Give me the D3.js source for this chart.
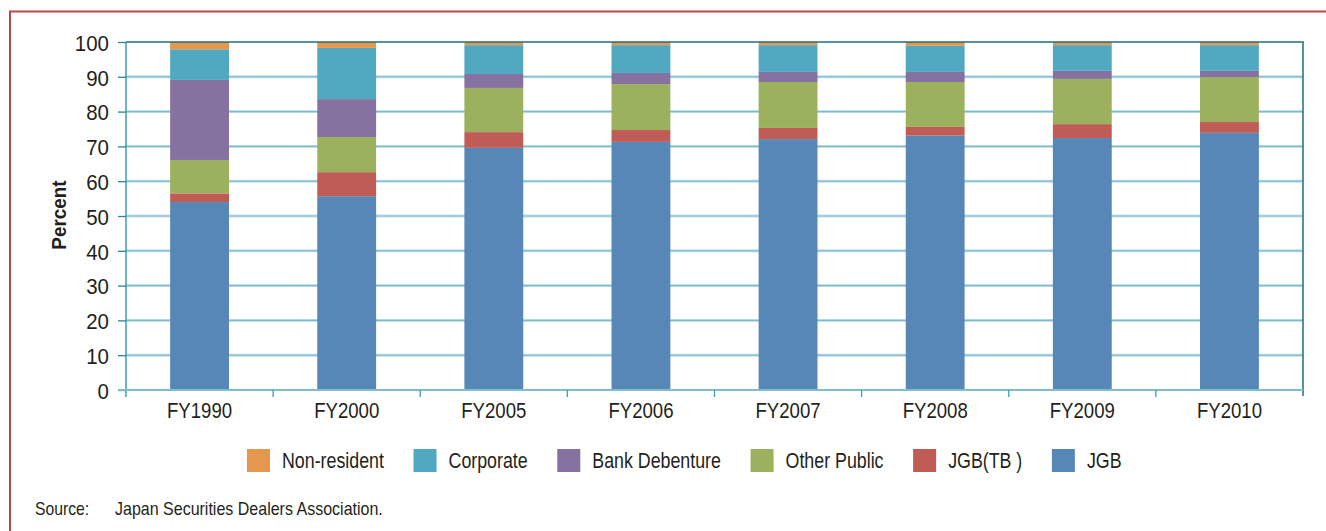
<!DOCTYPE html>
<html>
<head>
<meta charset="utf-8">
<script src="https://cdn.jsdelivr.net/npm/d3@7"></script>
<style>
  html, body { margin: 0; padding: 0; background: #ffffff; }
  svg { display: block; }
  .lbl { font-family: "Liberation Sans", Arial, sans-serif; fill: #231f20; }
</style>
</head>
<body>
<svg id="chart" width="1326" height="531"></svg>
<script>
// Holders of Japanese bonds, share of total (percent)
const categories = ["FY1990", "FY2000", "FY2005", "FY2006", "FY2007", "FY2008", "FY2009", "FY2010"];

const jgb          = [54.0, 55.7, 69.6, 71.3, 72.1, 73.1, 72.4, 73.9];
const jgbTB        = [2.5, 6.9, 4.5, 3.4, 3.2, 2.5, 4.0, 3.1];
const otherPublic  = [9.6, 10.1, 12.7, 13.2, 13.2, 12.9, 13.0, 12.9];
const bankDeb      = [23.0, 10.9, 4.0, 3.2, 2.9, 2.9, 2.3, 1.8];
const corporate    = [8.8, 14.7, 8.3, 8.0, 7.7, 7.5, 7.4, 7.4];
const nonResident  = [2.1, 1.7, 0.9, 0.9, 0.9, 1.1, 0.9, 0.9];

const yTicks = [0, 10, 20, 30, 40, 50, 60, 70, 80, 90, 100];

// Stack order bottom -> top
const seriesDefs = [
  { key: "JGB",            values: jgb,         color: "#5787b7" },
  { key: "JGB(TB )",       values: jgbTB,       color: "#be5c55" },
  { key: "Other Public",   values: otherPublic, color: "#9bb15e" },
  { key: "Bank Debenture", values: bankDeb,     color: "#8672a0" },
  { key: "Corporate",      values: corporate,   color: "#51a9c1" },
  { key: "Non-resident",   values: nonResident, color: "#e4984e" }
];
// Legend reads top of stack first
const legendOrder = ["Non-resident", "Corporate", "Bank Debenture", "Other Public", "JGB(TB )", "JGB"];

// Horizontally condense a text element around its own anchor point
function condense(sel, k, rot) {
  sel.each(function () {
    const t = d3.select(this);
    const x0 = +t.attr("x") || 0;
    const y0 = +t.attr("y") || 0;
    t.attr("x", 0).attr("y", 0)
     .attr("transform", `translate(${x0},${y0})${rot ? ` rotate(${rot})` : ""} scale(${k},1)`);
  });
}

const svg = d3.select("#chart");

// outer panel border
svg.append("rect")
  .attr("x", 10).attr("y", 11.5)
  .attr("width", 1400).attr("height", 600)
  .attr("fill", "none")
  .attr("stroke", "#b34a4a")
  .attr("stroke-width", 2);

const plot = { left: 126, right: 1303, top: 42, bottom: 390 };

const x = d3.scaleBand().domain(categories).range([plot.left, plot.right]).padding(0);
const y = d3.scaleLinear().domain([0, 100]).range([plot.bottom, plot.top]);
const barW = x.bandwidth() * 0.4;

// gridlines
const grid = svg.append("g");
yTicks.filter(t => t > 0 && t < 100).forEach(t => {
  grid.append("line")
    .attr("x1", plot.left).attr("x2", plot.right)
    .attr("y1", y(t)).attr("y2", y(t))
    .attr("stroke", "#c4e1e9").attr("stroke-width", 3);
  grid.append("line")
    .attr("x1", plot.left).attr("x2", plot.right)
    .attr("y1", y(t)).attr("y2", y(t))
    .attr("stroke", "#7fbccb").attr("stroke-width", 1.2);
});

// stacked bars
const rows = categories.map((c, i) => {
  const r = { cat: c };
  seriesDefs.forEach(s => r[s.key] = s.values[i]);
  return r;
});
const stacked = d3.stack().keys(seriesDefs.map(s => s.key))(rows);

svg.append("g").selectAll("g")
  .data(stacked)
  .join("g")
  .attr("fill", (d, i) => seriesDefs[i].color)
  .selectAll("rect")
  .data(d => d)
  .join("rect")
  .attr("x", d => x(d.data.cat) + (x.bandwidth() - barW) / 2)
  .attr("width", barW)
  .attr("y", d => y(d[1]))
  .attr("height", d => y(d[0]) - y(d[1]));

// frame: top and right edges
svg.append("line")
  .attr("x1", plot.left).attr("x2", plot.right + 0.75)
  .attr("y1", plot.top).attr("y2", plot.top)
  .attr("stroke", "#1d6f7d").attr("stroke-width", 1.5);
svg.append("line")
  .attr("x1", plot.right).attr("x2", plot.right)
  .attr("y1", plot.top).attr("y2", plot.bottom + 6)
  .attr("stroke", "#1d6f7d").attr("stroke-width", 1.5);

// y axis
const yAxis = svg.append("g")
  .attr("transform", `translate(${plot.left},0)`)
  .call(d3.axisLeft(y).tickValues(yTicks).tickSize(8).tickPadding(9).tickSizeOuter(0));
yAxis.select(".domain").attr("stroke", "#3f9eb0").attr("stroke-width", 1.5)
  .attr("d", `M0,${plot.top}V${plot.bottom + 7}`);
yAxis.selectAll(".tick line").attr("stroke", "#2a8495").attr("stroke-width", 1.3);
yAxis.selectAll(".tick text")
  .attr("class", "lbl")
  .attr("dy", "0.38em")
  .style("font-size", "22px")
  .attr("fill", "#231f20")
  .call(condense, 0.93);

// x axis
const xAxis = svg.append("g")
  .attr("transform", `translate(0,${plot.bottom})`)
  .call(d3.axisBottom(x).tickSize(0).tickPadding(12));
xAxis.select(".domain").attr("stroke", "#7fbfcb").attr("stroke-width", 2.2)
  .attr("d", `M${plot.left - 8},0H${plot.right}`);
xAxis.selectAll(".tick text")
  .attr("class", "lbl")
  .attr("y", 28).attr("dy", null)
  .style("font-size", "22px")
  .attr("fill", "#231f20")
  .call(condense, 0.845);

// category boundary ticks
const boundaries = categories.map(c => x(c)).concat([plot.right]);
svg.append("g").selectAll("line")
  .data(boundaries.slice(1, -1))
  .join("line")
  .attr("x1", d => d).attr("x2", d => d)
  .attr("y1", plot.bottom).attr("y2", plot.bottom + 7)
  .attr("stroke", "#3f9eb0").attr("stroke-width", 1.3);

// y axis title
svg.append("text")
  .attr("x", 66).attr("y", 215)
  .attr("text-anchor", "middle")
  .attr("class", "lbl")
  .style("font-weight", "bold")
  .style("font-size", "21px")
  .text("Percent")
  .call(condense, 0.9, -90);

// legend
const legend = svg.append("g");
const legendK = 0.81;
let lx = 247;
legendOrder.forEach(name => {
  const s = seriesDefs.find(d => d.key === name);
  legend.append("rect")
    .attr("x", lx).attr("y", 449)
    .attr("width", 23).attr("height", 23)
    .attr("fill", s.color);
  const t = legend.append("text")
    .attr("class", "lbl")
    .attr("x", lx + 35).attr("y", 467.5)
    .style("font-size", "22px")
    .text(name);
  const w = t.node().getComputedTextLength() * legendK;
  t.call(condense, legendK);
  lx += 35 + w + 29.5;
});

// source note
svg.append("text")
  .attr("class", "lbl")
  .attr("x", 35).attr("y", 515)
  .style("font-size", "17.5px")
  .text("Source:")
  .call(condense, 0.9);
svg.append("text")
  .attr("class", "lbl")
  .attr("x", 115).attr("y", 515)
  .style("font-size", "17.5px")
  .text("Japan Securities Dealers Association.")
  .call(condense, 0.915);
</script>
</body>
</html>
